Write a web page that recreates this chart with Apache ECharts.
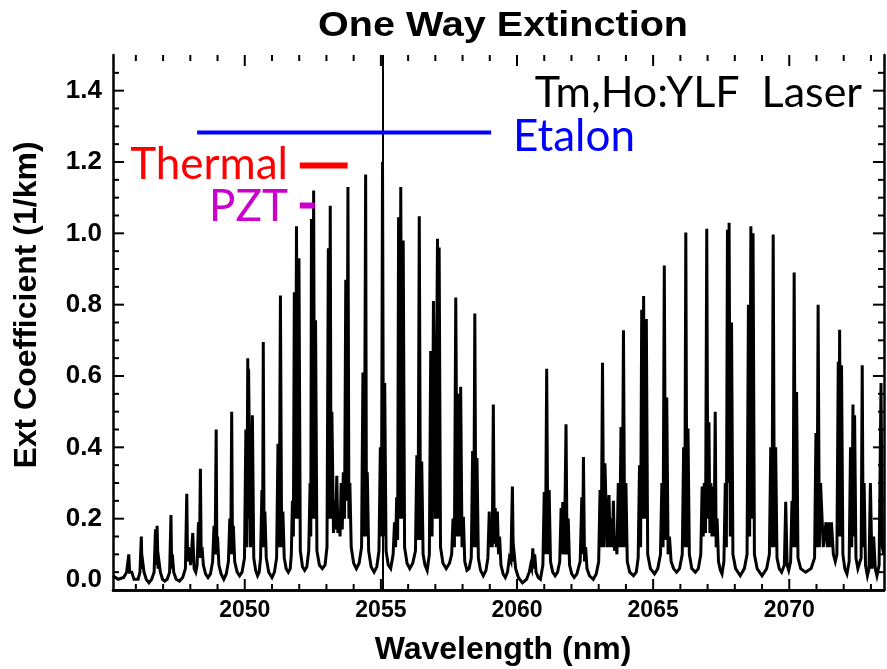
<!DOCTYPE html>
<html>
<head>
<meta charset="utf-8">
<script src="https://cdn.jsdelivr.net/npm/echarts@6/dist/echarts.min.js"></script>
<style>
  html, body { margin: 0; padding: 0; background: #fff; }
  #chart { width: 887px; height: 669px; }
</style>
</head>
<body>
<div id="chart"></div>
<script>
// strongest line of each CO2 band member [wavelength nm, ext 1/km]
const lineCenters = [
  [2045.74, 0.10], [2046.20, 0.15], [2046.78, 0.18], [2047.29, 0.21], [2047.87, 0.27],
  [2048.37, 0.34], [2048.95, 0.45], [2049.52, 0.50], [2050.11, 0.65], [2050.68, 0.695],
  [2051.31, 0.826], [2051.90, 1.02], [2052.53, 1.12], [2053.14, 1.077], [2053.79, 1.13],
  [2054.44, 1.165], [2055.06, 1.20], [2055.73, 1.13], [2056.41, 1.048], [2057.08, 0.985],
  [2057.75, 0.82], [2058.45, 0.775], [2059.13, 0.52], [2059.83, 0.29], [2060.58, 0.117],
  [2061.09, 0.62], [2061.80, 0.465], [2062.44, 0.373], [2063.14, 0.637], [2063.91, 0.728],
  [2064.65, 0.824], [2065.41, 0.91], [2066.20, 1.002], [2066.97, 1.013], [2067.79, 1.03],
  [2068.59, 1.02], [2069.41, 0.997], [2069.87, 0.247], [2070.18, 0.89], [2071.06, 0.80],
  [2071.85, 0.73], [2072.34, 0.52], [2072.68, 0.63], [2073.37, 0.58]
];

// weaker neighbouring lines (hot bands, isotopes)
const lineSatellites = [
  [2045.80, 0.05], [2046.25, 0.08], [2046.72, 0.17], [2046.85, 0.08], [2047.34, 0.10],
  [2047.93, 0.12], [2048.09, 0.16], [2048.30, 0.19], [2048.43, 0.12], [2048.87, 0.18],
  [2049.00, 0.15], [2049.45, 0.20], [2049.58, 0.18], [2050.04, 0.45], [2050.14, 0.62],
  [2050.28, 0.49], [2050.63, 0.28], [2050.74, 0.22], [2051.22, 0.41], [2051.40, 0.22],
  [2051.75, 0.25], [2051.82, 0.835], [2051.99, 0.93], [2052.40, 0.30], [2052.45, 1.04],
  [2052.60, 0.756], [2053.07, 0.958], [2053.20, 0.50], [2053.30, 0.25], [2053.38, 0.32],
  [2053.46, 0.22], [2053.54, 0.30], [2053.62, 0.33], [2053.71, 0.87], [2053.86, 0.30],
  [2054.34, 0.61], [2054.50, 0.33], [2054.98, 0.40], [2055.14, 0.58], [2055.50, 0.19],
  [2055.58, 0.26], [2055.65, 1.045], [2055.82, 0.98], [2056.32, 0.378], [2056.50, 0.36],
  [2056.83, 0.67], [2056.93, 0.81], [2057.14, 0.96], [2057.65, 0.20], [2057.86, 0.55],
  [2057.93, 0.57], [2058.03, 0.205], [2058.37, 0.39], [2058.53, 0.37], [2058.98, 0.22],
  [2059.05, 0.20], [2059.20, 0.23], [2059.28, 0.22], [2059.36, 0.15], [2059.72, 0.09],
  [2059.90, 0.10], [2060.50, 0.07], [2060.65, 0.10], [2061.00, 0.275], [2061.18, 0.28],
  [2061.62, 0.23], [2061.68, 0.247], [2061.88, 0.20], [2062.38, 0.26], [2062.52, 0.12],
  [2063.05, 0.28], [2063.23, 0.355], [2063.38, 0.266], [2063.46, 0.20], [2063.54, 0.25],
  [2063.62, 0.15], [2063.72, 0.30], [2063.82, 0.457], [2064.00, 0.30], [2064.50, 0.35],
  [2064.58, 0.786], [2064.75, 0.76], [2065.32, 0.30], [2065.50, 0.54], [2065.60, 0.15],
  [2066.12, 0.40], [2066.28, 0.453], [2066.80, 0.29], [2066.88, 0.30], [2067.05, 0.47],
  [2067.12, 0.30], [2067.20, 0.29], [2067.28, 0.50], [2067.35, 0.20], [2067.65, 0.30],
  [2067.73, 1.01], [2067.88, 0.75], [2068.50, 0.80], [2068.67, 1.00], [2069.32, 0.40],
  [2069.50, 0.40], [2070.10, 0.25], [2070.27, 0.555], [2070.98, 0.44], [2071.15, 0.30],
  [2071.35, 0.19], [2071.45, 0.19], [2071.55, 0.19], [2071.80, 0.64], [2071.92, 0.63],
  [2072.25, 0.40], [2072.40, 0.49], [2072.75, 0.30], [2072.98, 0.30], [2073.10, 0.15]
];

// dips between blended lines, line wings and the valley floors between lines
const troughs = [
  [2045.16, 0.04], [2045.35, 0.03], [2045.55, 0.035], [2045.66, 0.05], [2045.77, 0.05],
  [2045.85, 0.05], [2045.93, 0.03], [2046.00, 0.025], [2046.08, 0.03], [2046.15, 0.05],
  [2046.225, 0.06], [2046.30, 0.05], [2046.38, 0.03], [2046.48, 0.02], [2046.58, 0.03],
  [2046.67, 0.05], [2046.75, 0.07], [2046.815, 0.06], [2046.90, 0.05], [2046.98, 0.03],
  [2047.06, 0.025], [2047.15, 0.03], [2047.24, 0.05], [2047.315, 0.06], [2047.39, 0.05],
  [2047.48, 0.03], [2047.60, 0.025], [2047.72, 0.035], [2047.82, 0.06], [2047.90, 0.08],
  [2048.01, 0.07], [2048.14, 0.06], [2048.20, 0.05], [2048.25, 0.07], [2048.335, 0.09],
  [2048.40, 0.09], [2048.48, 0.07], [2048.56, 0.045], [2048.65, 0.035], [2048.74, 0.045],
  [2048.82, 0.08], [2048.91, 0.10], [2048.975, 0.10], [2049.05, 0.07], [2049.13, 0.045],
  [2049.23, 0.03], [2049.32, 0.045], [2049.40, 0.08], [2049.485, 0.10], [2049.55, 0.10],
  [2049.63, 0.08], [2049.72, 0.05], [2049.81, 0.04], [2049.90, 0.05], [2049.99, 0.09],
  [2050.075, 0.12], [2050.125, 0.20], [2050.21, 0.12], [2050.33, 0.09], [2050.40, 0.055],
  [2050.47, 0.04], [2050.53, 0.05], [2050.58, 0.09], [2050.655, 0.12], [2050.71, 0.12],
  [2050.79, 0.09], [2050.88, 0.05], [2051.00, 0.035], [2051.09, 0.05], [2051.17, 0.09],
  [2051.265, 0.12], [2051.355, 0.12], [2051.45, 0.09], [2051.52, 0.06], [2051.60, 0.05],
  [2051.67, 0.06], [2051.71, 0.10], [2051.785, 0.15], [2051.86, 0.20], [2051.945, 0.20],
  [2052.04, 0.11], [2052.12, 0.065], [2052.20, 0.055], [2052.28, 0.065], [2052.35, 0.11],
  [2052.425, 0.15], [2052.49, 0.20], [2052.565, 0.20], [2052.65, 0.11], [2052.74, 0.07],
  [2052.85, 0.06], [2052.95, 0.07], [2053.02, 0.12], [2053.105, 0.20], [2053.17, 0.20],
  [2053.26, 0.16], [2053.34, 0.17], [2053.42, 0.16], [2053.50, 0.15], [2053.58, 0.17],
  [2053.665, 0.20], [2053.75, 0.25], [2053.825, 0.20], [2053.91, 0.12], [2054.00, 0.075],
  [2054.10, 0.06], [2054.20, 0.075], [2054.29, 0.12], [2054.39, 0.15], [2054.47, 0.15],
  [2054.55, 0.11], [2054.64, 0.065], [2054.75, 0.05], [2054.85, 0.065], [2054.93, 0.11],
  [2055.02, 0.15], [2055.10, 0.15], [2055.19, 0.11], [2055.27, 0.07], [2055.36, 0.06],
  [2055.45, 0.10], [2055.54, 0.12], [2055.615, 0.14], [2055.69, 0.20], [2055.775, 0.20],
  [2055.87, 0.12], [2055.96, 0.075], [2056.06, 0.06], [2056.17, 0.075], [2056.27, 0.11],
  [2056.365, 0.14], [2056.455, 0.14], [2056.55, 0.10], [2056.62, 0.07], [2056.70, 0.055],
  [2056.78, 0.10], [2056.88, 0.15], [2057.00, 0.20], [2057.11, 0.20], [2057.19, 0.12],
  [2057.28, 0.075], [2057.40, 0.06], [2057.52, 0.075], [2057.60, 0.10], [2057.70, 0.12],
  [2057.805, 0.15], [2057.895, 0.15], [2057.98, 0.12], [2058.08, 0.08], [2058.16, 0.055],
  [2058.24, 0.06], [2058.32, 0.09], [2058.41, 0.12], [2058.49, 0.12], [2058.58, 0.09],
  [2058.66, 0.055], [2058.76, 0.04], [2058.86, 0.055], [2058.93, 0.09], [2059.015, 0.12],
  [2059.09, 0.12], [2059.165, 0.13], [2059.24, 0.12], [2059.32, 0.10], [2059.41, 0.07],
  [2059.49, 0.045], [2059.57, 0.035], [2059.65, 0.05], [2059.775, 0.08], [2059.865, 0.08],
  [2059.95, 0.06], [2060.05, 0.035], [2060.20, 0.02], [2060.35, 0.03], [2060.45, 0.05],
  [2060.54, 0.06], [2060.615, 0.06], [2060.70, 0.05], [2060.78, 0.035], [2060.86, 0.03],
  [2060.95, 0.07], [2061.045, 0.10], [2061.135, 0.10], [2061.23, 0.08], [2061.31, 0.05],
  [2061.40, 0.04], [2061.49, 0.05], [2061.57, 0.08], [2061.65, 0.10], [2061.74, 0.10],
  [2061.84, 0.10], [2061.93, 0.07], [2062.01, 0.045], [2062.10, 0.035], [2062.20, 0.045],
  [2062.32, 0.08], [2062.41, 0.10], [2062.48, 0.08], [2062.57, 0.06], [2062.66, 0.04],
  [2062.80, 0.03], [2062.91, 0.045], [2063.00, 0.08], [2063.095, 0.12], [2063.185, 0.12],
  [2063.31, 0.12], [2063.42, 0.12], [2063.50, 0.12], [2063.58, 0.11], [2063.67, 0.10],
  [2063.77, 0.12], [2063.865, 0.12], [2063.955, 0.12], [2064.05, 0.08], [2064.14, 0.05],
  [2064.28, 0.04], [2064.38, 0.05], [2064.45, 0.09], [2064.54, 0.12], [2064.615, 0.20],
  [2064.70, 0.20], [2064.80, 0.10], [2064.90, 0.06], [2065.05, 0.045], [2065.17, 0.06],
  [2065.27, 0.10], [2065.365, 0.12], [2065.455, 0.14], [2065.55, 0.10], [2065.66, 0.08],
  [2065.75, 0.06], [2065.86, 0.05], [2065.97, 0.06], [2066.07, 0.10], [2066.16, 0.12],
  [2066.24, 0.12], [2066.33, 0.10], [2066.42, 0.06], [2066.55, 0.05], [2066.66, 0.06],
  [2066.75, 0.10], [2066.84, 0.15], [2066.925, 0.16], [2067.01, 0.20], [2067.085, 0.16],
  [2067.16, 0.15], [2067.24, 0.15], [2067.315, 0.12], [2067.40, 0.08], [2067.47, 0.055],
  [2067.53, 0.045], [2067.60, 0.08], [2067.69, 0.12], [2067.76, 0.30], [2067.835, 0.15],
  [2067.93, 0.10], [2068.03, 0.06], [2068.20, 0.04], [2068.35, 0.06], [2068.45, 0.10],
  [2068.545, 0.15], [2068.63, 0.20], [2068.72, 0.10], [2068.82, 0.06], [2069.00, 0.04],
  [2069.17, 0.06], [2069.27, 0.10], [2069.365, 0.12], [2069.455, 0.12], [2069.55, 0.09],
  [2069.63, 0.06], [2069.72, 0.05], [2069.82, 0.07], [2069.92, 0.07], [2069.98, 0.055],
  [2070.05, 0.08], [2070.14, 0.12], [2070.225, 0.12], [2070.32, 0.09], [2070.42, 0.06],
  [2070.60, 0.05], [2070.80, 0.06], [2070.93, 0.09], [2071.02, 0.12], [2071.105, 0.12],
  [2071.25, 0.12], [2071.40, 0.12], [2071.50, 0.12], [2071.62, 0.10], [2071.69, 0.08],
  [2071.75, 0.10], [2071.825, 0.15], [2071.885, 0.15], [2071.97, 0.10], [2072.04, 0.06],
  [2072.12, 0.045], [2072.20, 0.08], [2072.295, 0.12], [2072.37, 0.15], [2072.45, 0.09],
  [2072.52, 0.06], [2072.58, 0.06], [2072.64, 0.09], [2072.715, 0.12], [2072.80, 0.07],
  [2072.87, 0.04], [2072.93, 0.06], [2073.04, 0.06], [2073.16, 0.06], [2073.22, 0.04],
  [2073.30, 0.07], [2073.42, 0.12], [2073.47, 0.10]
];

const laserWl = 2055.05;
// tuning ranges: [start nm, end nm, drawn at ext level]
const etalonRange = [2048.25, 2059.05, 1.283];
const thermalRange = [2052.02, 2053.78, 1.19];
const pztRange = [2052.02, 2052.57, 1.078];

const xMajorTicks = [2050, 2055, 2060, 2065, 2070];
const xMinorTicks = [2046, 2047, 2048, 2049, 2051, 2052, 2053, 2054, 2056, 2057, 2058, 2059,
  2061, 2062, 2063, 2064, 2066, 2067, 2068, 2069, 2071, 2072, 2073];
const yMajorTicks = [0, 0.2, 0.4, 0.6, 0.8, 1.0, 1.2, 1.4];
const yMinorTicks = [0.05, 0.1, 0.15, 0.25, 0.3, 0.35, 0.45, 0.5, 0.55, 0.65, 0.7, 0.75,
  0.85, 0.9, 0.95, 1.05, 1.1, 1.15, 1.25, 1.3, 1.35, 1.45];

const X_MIN = 2045.16, X_MAX = 2073.48, Y_MIN = 0, Y_MAX = 1.5;

const spectrum = [...lineCenters, ...lineSatellites, ...troughs].sort((a, b) => a[0] - b[0]);

const axisFont = 'Liberation Sans';
const frame = { show: true, lineStyle: { color: '#000', width: 2.5 } };

function xAxisOf(position, withLabel) {
  return {
    type: 'value', position: position, min: X_MIN, max: X_MAX,
    axisLine: frame, axisTick: { show: false }, splitLine: { show: false },
    axisLabel: withLabel ? {
      customValues: xMajorTicks, color: '#000', fontFamily: axisFont, fontWeight: 'bold',
      fontSize: 23, margin: 9, formatter: v => String(v)
    } : { show: false }
  };
}
function yAxisOf(position, withLabel) {
  return {
    type: 'value', position: position, min: Y_MIN, max: Y_MAX,
    axisLine: frame, axisTick: { show: false }, splitLine: { show: false },
    axisLabel: withLabel ? {
      customValues: yMajorTicks, color: '#000', fontFamily: axisFont, fontWeight: 'bold',
      fontSize: 26, margin: 11,
      formatter: v => v === 0 ? '{z|0.0}' : v.toFixed(1),
      rich: { z: { fontFamily: axisFont, fontWeight: 'bold', fontSize: 26, color: '#000', padding: [0, 0, 20, 0] } }
    } : { show: false }
  };
}

// inward ticks on all four sides of the frame, placed through the axis scales
function tickSeries(values, len, isX) {
  return {
    type: 'custom', silent: true, clip: false, z: 6,
    data: values.map(v => isX ? [v, Y_MIN] : [X_MIN, v]),
    renderItem: (params, api) => {
      const style = { stroke: '#000', lineWidth: 2 };
      if (isX) {
        const v = api.value(0);
        const b = api.coord([v, Y_MIN]), t = api.coord([v, Y_MAX]);
        return { type: 'group', children: [
          { type: 'line', shape: { x1: b[0], y1: b[1], x2: b[0], y2: b[1] - len }, style: style },
          { type: 'line', shape: { x1: t[0], y1: t[1], x2: t[0], y2: t[1] + len }, style: style }
        ] };
      }
      const v = api.value(1);
      const l = api.coord([X_MIN, v]), r = api.coord([X_MAX, v]);
      return { type: 'group', children: [
        { type: 'line', shape: { x1: l[0], y1: l[1], x2: l[0] + len, y2: l[1] }, style: style },
        { type: 'line', shape: { x1: r[0], y1: r[1], x2: r[0] - len, y2: r[1] }, style: style }
      ] };
    }
  };
}

function rangeSeries(r, color, width) {
  return {
    type: 'line', data: [[r[0], r[2]], [r[1], r[2]]], showSymbol: false, silent: true,
    lineStyle: { color: color, width: width, cap: 'butt' }, z: 5
  };
}

const chart = echarts.init(document.getElementById('chart'));
chart.setOption({
  animation: false,
  backgroundColor: '#fff',
  grid: { left: 113, right: 3, top: 55, bottom: 79 },
  xAxis: [xAxisOf('bottom', true), xAxisOf('top', false)],
  yAxis: [yAxisOf('left', true), yAxisOf('right', false)],
  series: [
    {
      type: 'line', data: spectrum, showSymbol: false, silent: true,
      lineStyle: { color: '#000', width: 3, join: 'miter' },
      markLine: {
        silent: true, symbol: 'none', label: { show: false },
        lineStyle: { color: '#000', width: 2, type: 'solid' },
        data: [{ xAxis: laserWl }]
      }
    },
    rangeSeries(etalonRange, '#0000ff', 4),
    rangeSeries(thermalRange, '#ff0000', 6),
    rangeSeries(pztRange, '#cc00cc', 6),
    tickSeries(xMajorTicks, 11, true),
    tickSeries(xMinorTicks, 6, true),
    tickSeries(yMajorTicks, 11, false),
    tickSeries(yMinorTicks, 6, false)
  ],
  graphic: [
    { type: 'text', x: 503, y: 26, scaleX: 1.13, style: { text: 'One Way Extinction', fill: '#000',
      font: 'bold 35px "Liberation Sans"', align: 'center', verticalAlign: 'middle',
      textAlign: 'center', textVerticalAlign: 'middle' } },
    { type: 'text', x: 503, y: 650, style: { text: 'Wavelength (nm)', fill: '#000',
      font: 'bold 32px "Liberation Sans"', align: 'center', verticalAlign: 'middle',
      textAlign: 'center', textVerticalAlign: 'middle' } },
    { type: 'text', x: 27, y: 305, rotation: Math.PI / 2, style: { text: 'Ext Coefficient (1/km)', fill: '#000',
      font: 'bold 32px "Liberation Sans"', align: 'center', verticalAlign: 'middle',
      textAlign: 'center', textVerticalAlign: 'middle' } },
    { type: 'text', x: 862, y: 93, z: 10, style: { text: 'Tm,Ho:YLF  Laser', fill: '#000',
      font: '43px Lato', align: 'right', verticalAlign: 'middle',
      textAlign: 'right', textVerticalAlign: 'middle' } },
    { type: 'text', x: 513, y: 137, z: 10, style: { text: 'Etalon', fill: '#0000ff',
      font: '44px Lato', align: 'left', verticalAlign: 'middle',
      textAlign: 'left', textVerticalAlign: 'middle' } },
    { type: 'text', x: 288, y: 165, z: 10, style: { text: 'Thermal', fill: '#ff0000',
      font: '44px Lato', align: 'right', verticalAlign: 'middle',
      textAlign: 'right', textVerticalAlign: 'middle' } },
    { type: 'text', x: 288, y: 207, z: 10, style: { text: 'PZT', fill: '#cc00cc',
      font: '44px Lato', align: 'right', verticalAlign: 'middle',
      textAlign: 'right', textVerticalAlign: 'middle' } }
  ]
});
</script>
</body>
</html>
